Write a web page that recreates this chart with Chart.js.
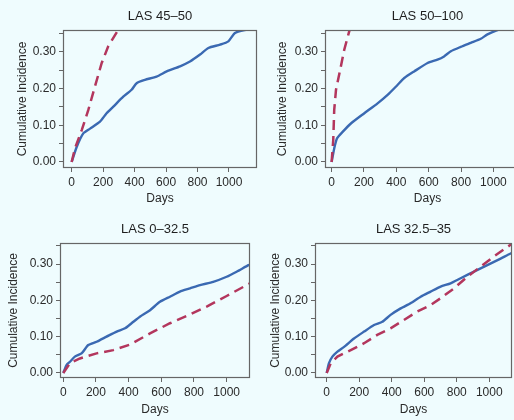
<!DOCTYPE html>
<html>
<head>
<meta charset="utf-8">
<script src="https://cdn.jsdelivr.net/npm/chart.js@4/dist/chart.umd.min.js"></script>
<style>
  html, body { margin: 0; padding: 0; }
  body { width: 514px; height: 420px; overflow: hidden; background: #effcfe; }
  #wrap { position: relative; width: 514px; height: 420px; overflow: hidden; }
  .cv { position: absolute; }
</style>
</head>
<body>
<div id="wrap">
  <div class="cv" style="left:0px;top:0px;width:260px;height:210px"><canvas id="c1"></canvas></div>
  <div class="cv" style="left:260px;top:0px;width:290px;height:210px"><canvas id="c2"></canvas></div>
  <div class="cv" style="left:0px;top:210px;width:260px;height:210px"><canvas id="c3"></canvas></div>
  <div class="cv" style="left:255px;top:210px;width:259px;height:210px"><canvas id="c4"></canvas></div>
</div>
<script>
// ---- Data ----
const panelTitles = ["LAS 45\u201350", "LAS 50\u2013100", "LAS 0\u201332.5", "LAS 32.5\u201335"];
const xTickLabels = [0, 200, 400, 600, 800, 1000];
const yTickLabels = [0.00, 0.10, 0.20, 0.30];
const yTickMarks  = [0.00, 0.05, 0.10, 0.15, 0.20, 0.25, 0.30, 0.35];

// LAS 45-50
const las4550BlueDays = [0, 32, 74, 117, 180, 222, 265, 328, 381, 413, 466, 540, 604, 689, 752, 816, 869, 943, 996, 1038, 1112, 1140];
const las4550BlueCI   = [0, 0.041, 0.078, 0.091, 0.110, 0.133, 0.151, 0.178, 0.197, 0.215, 0.224, 0.233, 0.247, 0.261, 0.274, 0.293, 0.311, 0.320, 0.329, 0.352, 0.361, 0.363];
const las4550RedDays  = [0, 21, 64, 106, 148, 191, 233, 297, 330];
const las4550RedCI    = [0, 0.037, 0.087, 0.142, 0.206, 0.270, 0.316, 0.361, 0.390];

// LAS 50-100
const las50100BlueDays = [0, 16, 33, 68, 119, 202, 284, 346, 407, 449, 510, 593, 654, 695, 737, 798, 860, 922, 963, 1045, 1100];
const las50100BlueCI   = [0, 0.037, 0.064, 0.082, 0.105, 0.133, 0.160, 0.183, 0.210, 0.229, 0.247, 0.270, 0.279, 0.288, 0.302, 0.314, 0.325, 0.336, 0.348, 0.363, 0.372];
const las50100RedDays  = [0, 10, 16, 27, 53, 78, 109, 130];
const las50100RedCI    = [0, 0.060, 0.142, 0.197, 0.252, 0.306, 0.357, 0.390];

// LAS 0-32.5
const las0325BlueDays = [0, 20, 41, 71, 112, 153, 204, 265, 327, 378, 418, 469, 531, 592, 653, 714, 776, 837, 918, 1000, 1061, 1133, 1140];
const las0325BlueCI   = [0, 0.022, 0.031, 0.045, 0.054, 0.077, 0.086, 0.100, 0.114, 0.123, 0.137, 0.155, 0.173, 0.196, 0.210, 0.224, 0.233, 0.242, 0.251, 0.265, 0.279, 0.297, 0.298];
const las0325RedDays  = [0, 41, 102, 204, 306, 408, 531, 653, 755, 878, 1000, 1122, 1140];
const las0325RedCI    = [0, 0.027, 0.040, 0.054, 0.063, 0.078, 0.109, 0.137, 0.157, 0.183, 0.212, 0.242, 0.246];

// LAS 32.5-35
const las32535BlueDays = [0, 14, 35, 66, 107, 168, 230, 291, 342, 393, 455, 516, 578, 639, 701, 762, 824, 906, 988, 1070, 1131, 1140];
const las32535BlueCI   = [0, 0.027, 0.045, 0.059, 0.072, 0.095, 0.114, 0.132, 0.141, 0.160, 0.178, 0.192, 0.210, 0.224, 0.238, 0.247, 0.261, 0.279, 0.297, 0.315, 0.329, 0.330];
const las32535RedDays  = [0, 25, 66, 148, 230, 311, 393, 475, 557, 639, 701, 783, 865, 947, 1029, 1131, 1140];
const las32535RedCI    = [0, 0.027, 0.045, 0.063, 0.082, 0.105, 0.123, 0.146, 0.169, 0.187, 0.206, 0.233, 0.265, 0.293, 0.321, 0.353, 0.356];

// ---- Styles ----
const FONT = "'Liberation Sans', Arial, Helvetica, sans-serif";
const BLUE = '#3a69b2';
const RED = '#b3365d';
const AXIS = '#666666';

const boxPlugin = {
  id: 'box',
  afterDatasetsDraw(chart) {
    const a = chart.chartArea, ctx = chart.ctx;
    ctx.save();
    ctx.strokeStyle = AXIS;
    ctx.lineWidth = 1.2;
    ctx.strokeRect(Math.round(a.left) + 0.5, Math.round(a.top) + 0.5,
                   Math.round(a.right - a.left) - 1, Math.round(a.bottom - a.top) - 1);
    ctx.restore();
  }
};

function pts(days, vals) { return days.map((d, i) => ({ x: d, y: vals[i] })); }

function makePanel(id, cfg) {
  new Chart(document.getElementById(id), {
    type: 'line',
    data: {
      datasets: [
        { data: pts(cfg.redDays, cfg.redCI), borderColor: RED, borderWidth: 2.5, borderDash: [10, 6],
          pointRadius: 0, tension: 0, fill: false },
        { data: pts(cfg.blueDays, cfg.blueCI), borderColor: BLUE, borderWidth: 2.4,
          pointRadius: 0, tension: 0.2, fill: false }
      ]
    },
    options: {
      responsive: true,
      maintainAspectRatio: false,
      animation: false,
      events: [],
      layout: { padding: { left: 0, right: cfg.padRight, top: 0, bottom: 0 } },
      plugins: {
        legend: { display: false },
        tooltip: { enabled: false },
        title: {
          display: true, text: cfg.title, fullSize: false,
          color: '#1e1e1e', font: { family: FONT, size: 13, weight: 'normal', lineHeight: 1.2 },
          padding: { top: cfg.titleTop, bottom: cfg.titleBottom }
        }
      },
      scales: {
        x: {
          type: 'linear', min: cfg.xMin, max: cfg.xMax,
          afterFit(s) { s.height = cfg.xAxisH; },
          border: { display: false },
          grid: { drawOnChartArea: false, drawTicks: true, tickLength: 4, color: AXIS, lineWidth: 1 },
          ticks: {
            includeBounds: false, autoSkip: false, maxRotation: 0,
            padding: 3, color: '#2a2a2a', font: { family: FONT, size: 12 },
            callback: v => String(Math.round(v))
          },
          afterBuildTicks(s) { s.ticks = xTickLabels.map(v => ({ value: v })); },
          title: { display: true, text: 'Days', color: '#2a2a2a', font: { family: FONT, size: 12 },
                   padding: { top: 0, bottom: cfg.xTitleBottom } }
        },
        y: {
          type: 'linear', min: cfg.yMin, max: cfg.yMax,
          afterFit(s) { s.width = cfg.yAxisW; },
          border: { display: false },
          grid: { drawOnChartArea: false, drawTicks: true, tickLength: 4, color: AXIS, lineWidth: 1 },
          ticks: {
            includeBounds: false, autoSkip: false,
            padding: 3, color: '#2a2a2a', font: { family: FONT, size: 12 },
            callback: v => {
              const r = Math.round(v * 100) / 100;
              return yTickLabels.some(t => Math.abs(t - r) < 1e-6) ? r.toFixed(2) : '';
            }
          },
          afterBuildTicks(s) { s.ticks = yTickMarks.map(v => ({ value: v })); },
          title: { display: true, text: 'Cumulative Incidence', color: '#2a2a2a', font: { family: FONT, size: 12 },
                   padding: { top: cfg.yTitleTop, bottom: 0 } }
        }
      }
    },
    plugins: [boxPlugin]
  });
}

makePanel('c1', {
  title: panelTitles[0], blueDays: las4550BlueDays, blueCI: las4550BlueCI, redDays: las4550RedDays, redCI: las4550RedCI,
  xMin: -55, xMax: 1178, yMin: -0.0164, yMax: 0.36,
  padRight: 3, yAxisW: 63, xAxisH: 42, titleTop: 9, titleBottom: 5.4, xTitleBottom: 4, yTitleTop: 15
});
makePanel('c2', {
  title: panelTitles[1], blueDays: las50100BlueDays, blueCI: las50100BlueCI, redDays: las50100RedDays, redCI: las50100RedCI,
  xMin: -41, xMax: 1226, yMin: -0.0164, yMax: 0.36,
  padRight: 20, yAxisW: 65, xAxisH: 42, titleTop: 9, titleBottom: 5.4, xTitleBottom: 4, yTitleTop: 15
});
makePanel('c3', {
  title: panelTitles[2], blueDays: las0325BlueDays, blueCI: las0325BlueCI, redDays: las0325RedDays, redCI: las0325RedCI,
  xMin: -20, xMax: 1143, yMin: -0.0138, yMax: 0.358,
  padRight: 10, yAxisW: 60, xAxisH: 42, titleTop: 12, titleBottom: 5.4, xTitleBottom: 3, yTitleTop: 6
});
makePanel('c4', {
  title: panelTitles[3], blueDays: las32535BlueDays, blueCI: las32535BlueCI, redDays: las32535RedDays, redCI: las32535RedCI,
  xMin: -72, xMax: 1140, yMin: -0.0138, yMax: 0.358,
  padRight: 2, yAxisW: 60, xAxisH: 42, titleTop: 12, titleBottom: 5.4, xTitleBottom: 3, yTitleTop: 13.5
});
</script>
</body>
</html>
